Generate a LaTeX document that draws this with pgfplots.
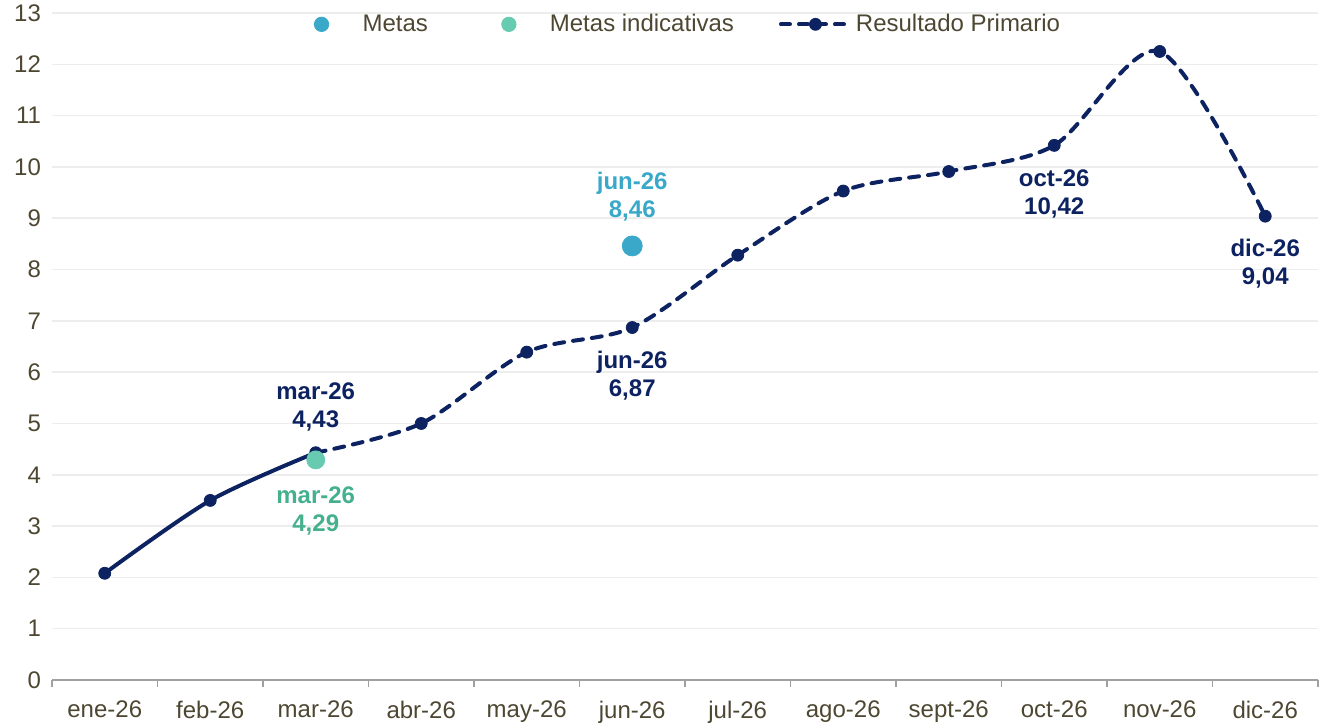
\documentclass[border=0pt]{standalone}
\usepackage{fontspec}
\setmainfont{Liberation Sans}
\usepackage{pgfplots}
\pgfplotsset{compat=1.18}
\definecolor{navy}{HTML}{0D2260}
\definecolor{ticktxt}{HTML}{4D4732}
\definecolor{metas}{HTML}{3AA9C9}
\definecolor{metasind}{HTML}{66CBB0}
\definecolor{metasindtxt}{HTML}{45B08E}
\definecolor{gridc}{HTML}{EDEDED}
\definecolor{axisc}{HTML}{A0A0A0}
\begin{document}
\begin{tikzpicture}
\begin{axis}[
  scale only axis,
  width=633pt, height=333.5pt,
  xmin=-0.5, xmax=11.5, ymin=0, ymax=13,
  axis x line*=bottom,
  axis y line*=left,
  y axis line style={draw=none},
  x axis line style={draw=axisc, line width=0.8pt},
  xtick={0,...,11},
  xticklabels={ene-26,feb-26,mar-26,abr-26,may-26,jun-26,jul-26,ago-26,sept-26,oct-26,nov-26,dic-26},
  minor xtick={-0.5,0.5,...,11.5},
  ytick={0,...,13},
  major tick length=0pt,
  minor tick length=3.5pt,
  tick align=outside,
  xtick style={draw=none},
  ytick style={draw=none},
  minor x tick style={draw=axisc, line width=0.8pt},
  ymajorgrids,
  grid style={draw=gridc, line width=0.8pt},
  tick label style={font=\fontsize{12}{14}\selectfont, text=ticktxt},
  /pgf/number format/assume math mode=true,
  xticklabel style={yshift=-7pt},
  yticklabel style={xshift=-2pt},
  clip=false,
  legend columns=3,
  legend style={draw=none, fill=none, font=\fontsize{12}{14}\selectfont, text=ticktxt,
    at={(rel axis cs:0.503,0.983)}, anchor=center,
    /tikz/column 2/.style={column sep=34.5pt},
    /tikz/column 4/.style={column sep=20.5pt}},
]
\coordinate (ll) at (rel axis cs:0,0);
\coordinate (ur) at (rel axis cs:1,1);
\addlegendimage{legend image code/.code={\path[draw=none] (-4pt,0) -- (18.5pt,0); \fill[metas] (0pt,0pt) circle (3.6pt);}}
\addlegendentry{Metas}
\addlegendimage{legend image code/.code={\path[draw=none] (-4pt,0) -- (18.5pt,0); \fill[metasind] (0pt,0pt) circle (3.6pt);}}
\addlegendentry{Metas indicativas}
\addlegendimage{legend image code/.code={\draw[navy, line width=2pt, line cap=round, dash pattern=on 4.5pt off 4.5pt] (0pt,0pt) -- (34.5pt,0pt); \fill[navy] (17.25pt,0pt) circle (3pt);}}
\addlegendentry{Resultado Primario}

\addplot[navy, line width=2pt, smooth, forget plot] coordinates {(0,2.08) (1,3.50) (2,4.43)};
\addplot[navy, line width=2pt, smooth, line cap=round, dash pattern=on 5pt off 4.5pt, forget plot] coordinates {
(2,4.43) (3,5.00) (4,6.39) (5,6.87) (6,8.28) (7,9.53) (8,9.91) (9,10.42) (10,12.25) (11,9.04)};
\addplot[only marks, navy, mark=*, mark size=3pt, forget plot] coordinates {
(0,2.08) (1,3.50) (2,4.43) (3,5.00) (4,6.39) (5,6.87) (6,8.28) (7,9.53) (8,9.91) (9,10.42) (10,12.25) (11,9.04)};
\addplot[only marks, metas, mark=*, mark size=5pt, mark options={draw=metas, fill=metas}, forget plot] coordinates {(5,8.46)};
\addplot[only marks, metasind, mark=*, mark size=4.5pt, mark options={draw=metasind, fill=metasind}, forget plot] coordinates {(2,4.29)};

\begin{scope}[every node/.style={font=\fontsize{12}{14}\selectfont\bfseries, align=center, anchor=center}]
\node[text=navy] at (axis cs:2,5.33) {mar-26\\4,43};
\node[text=metasindtxt] at (axis cs:2,3.30) {mar-26\\4,29};
\node[text=metas] at (axis cs:5,9.43) {jun-26\\8,46};
\node[text=navy] at (axis cs:5,5.93) {jun-26\\6,87};
\node[text=navy] at (axis cs:9,9.47) {oct-26\\10,42};
\node[text=navy] at (axis cs:11,8.11) {dic-26\\9,04};
\end{scope}
\end{axis}
\pgfresetboundingbox
\path ([shift={(-26pt,-22.5pt)}]ll) rectangle ([shift={(0.5pt,6.5pt)}]ur);
\end{tikzpicture}
\end{document}
